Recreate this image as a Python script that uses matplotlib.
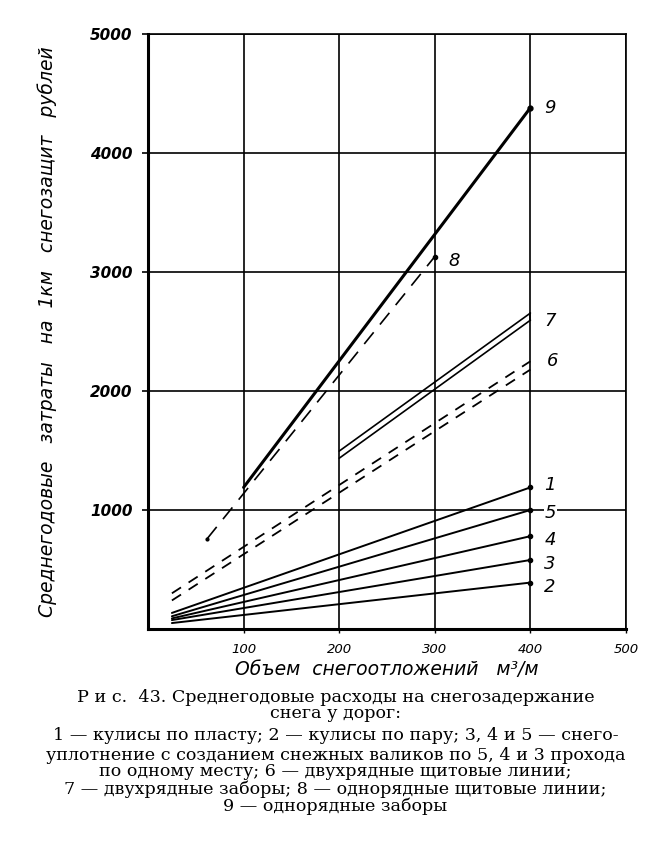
import matplotlib
matplotlib.use("Agg")
import matplotlib.pyplot as plt

# объем снегоотложений, м3/м  -> затраты, руб
x_low = [25, 400]
line1 = [135, 1190]
line2 = [50, 390]
line3 = [75, 580]
line4 = [89, 780]
line5 = [107, 1000]

x6 = [25, 400]
line6_a = [300, 2250]
line6_b = [240, 2180]

x7 = [200, 400]
line7_a = [1495, 2655]
line7_b = [1435, 2595]

x8 = [62, 300]
line8 = [760, 3130]

x9 = [100, 400]
line9 = [1190, 4380]

xticks = [100, 200, 300, 400, 500]
yticks = [1000, 2000, 3000, 4000, 5000]

caption = [
    "Р и с.  43. Среднегодовые расходы на снегозадержание",
    "снега у дорог:",
    "1 — кулисы по пласту; 2 — кулисы по пару; 3, 4 и 5 — снего-",
    "уплотнение с созданием снежных валиков по 5, 4 и 3 прохода",
    "по одному месту; 6 — двухрядные щитовые линии;",
    "7 — двухрядные заборы; 8 — однорядные щитовые линии;",
    "9 — однорядные заборы",
]
caption_y = [697, 714, 735, 755, 772, 789, 806]

W, H = 671, 842
fig = plt.figure(figsize=(W / 100, H / 100), dpi=100)
ax = fig.add_axes([148 / W, (H - 629) / H, (626 - 148) / W, (629 - 34) / H])

ax.set_xlim(0, 500)
ax.set_ylim(0, 5000)
ax.set_xticks(xticks)
ax.set_yticks(yticks)
ax.grid(True, color="black", lw=1.2)
ax.set_axisbelow(True)
for s in ["left", "bottom"]:
    ax.spines[s].set_linewidth(2.2)
for s in ["top", "right"]:
    ax.spines[s].set_linewidth(1.2)
ax.tick_params(axis="y", length=4, width=1.2, pad=7, labelsize=11)
ax.tick_params(axis="x", length=3, width=1.0, pad=7, labelsize=9.5)
for lab in ax.get_yticklabels() + ax.get_xticklabels():
    lab.set_fontstyle("italic")
for lab in ax.get_yticklabels():
    lab.set_fontweight("bold")

k = dict(color="black", solid_capstyle="round")
for yy in [line1, line2, line3, line4, line5]:
    ax.plot(x_low, yy, lw=1.4, **k)
    ax.plot(x_low[-1], yy[-1], "o", color="black", ms=3)

ax.plot(x6, line6_a, lw=1.3, dashes=(6, 5), color="black")
ax.plot(x6, line6_b, lw=1.3, dashes=(6, 5), color="black")

ax.plot(x7, line7_a, lw=1.2, **k)
ax.plot(x7, line7_b, lw=1.2, **k)
ax.plot([x7[-1], x7[-1]], [line7_b[-1], line7_a[-1]], lw=1.2, **k)

ax.plot(x8, line8, lw=1.2, dashes=(9, 6), color="black")
ax.plot(x8[-1], line8[-1], "o", color="black", ms=3)
ax.plot(x8[0], line8[0], "o", color="black", ms=2)

ax.plot(x9, line9, lw=2.2, **k)
ax.plot(x9[-1], line9[-1], "o", color="black", ms=3.5)

# номера кривых
lab_kw = dict(textcoords="offset points", fontsize=13, fontstyle="italic",
              va="center", ha="left", color="black")
ax.annotate("1", (x_low[-1], line1[-1]), xytext=(10, 2), **lab_kw)
ax.annotate("5", (x_low[-1], line5[-1]), xytext=(10, -2), **lab_kw,
            bbox=dict(fc="white", ec="none", pad=0.5))
ax.annotate("4", (x_low[-1], line4[-1]), xytext=(10, -3), **lab_kw)
ax.annotate("3", (x_low[-1], line3[-1]), xytext=(10, -3), **lab_kw)
ax.annotate("2", (x_low[-1], line2[-1]), xytext=(10, -3), **lab_kw)
ax.annotate("6", (x6[-1], line6_a[-1]), xytext=(12, 0), **lab_kw)
ax.annotate("7", (x7[-1], line7_a[-1]), xytext=(10, -6), **lab_kw)
ax.annotate("8", (x8[-1], line8[-1]), xytext=(10, -3), **lab_kw)
ax.annotate("9", (x9[-1], line9[-1]), xytext=(10, 0), **lab_kw)

ax.set_xlabel("Объем  снегоотложений   м³/м", fontsize=13.5, fontstyle="italic",
              labelpad=3)
ax.set_ylabel("Среднегодовые   затраты   на  1км   снегозащит   рублей",
              fontsize=13.5, fontstyle="italic", labelpad=24)

for txt, yy in zip(caption, caption_y):
    fig.text(0.5, 1 - yy / H, txt, ha="center", va="center",
             fontsize=12.6, family="DejaVu Serif")

fig.savefig("out.png", dpi=100)
